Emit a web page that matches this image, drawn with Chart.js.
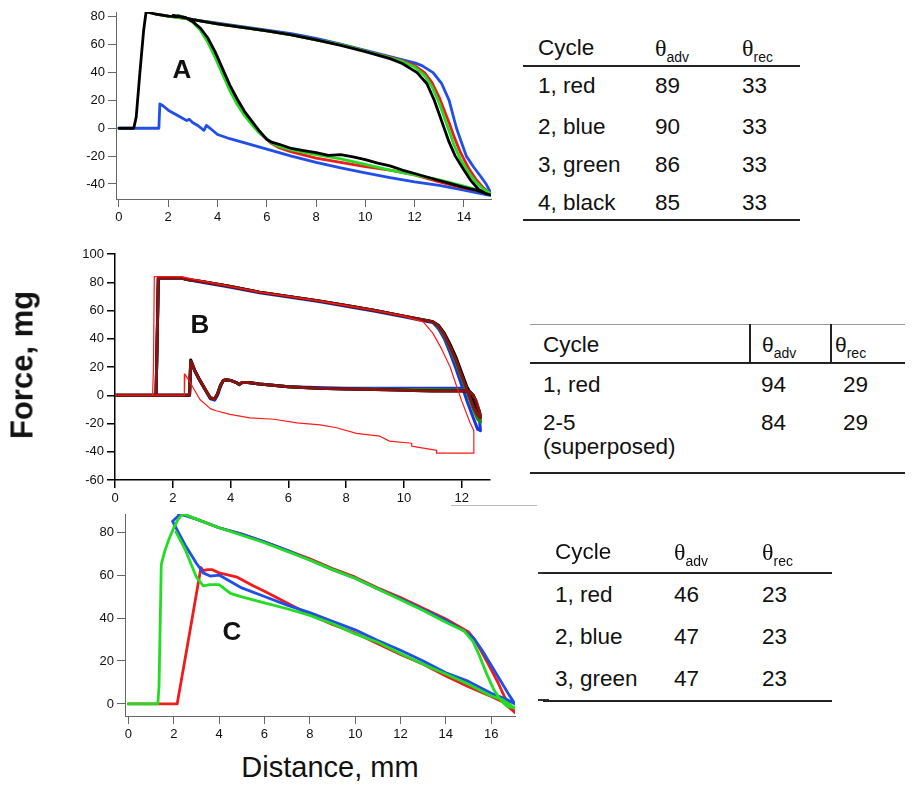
<!DOCTYPE html>
<html>
<head>
<meta charset="utf-8">
<script src="https://cdn.jsdelivr.net/npm/chart.js@4.4.0/dist/chart.umd.min.js"></script>
<style>
  body { margin: 0; background: #fff; }
  #page { position: relative; width: 918px; height: 787px; overflow: hidden; font-family: "Liberation Sans", Arial, sans-serif; color: #111; }
  canvas { position: absolute; left: 0; }
  .t { position: absolute; line-height: 1; white-space: nowrap; transform: translateY(-50%); font-size: 22.5px; z-index: 2; }
  .th { font-family: "Liberation Serif", serif; font-size: 24px; }
  .thb { font-family: "Liberation Sans", sans-serif; font-size: 21px; }
  .sub { font-size: 14px; position: relative; top: 6px; }
  .rule { position: absolute; height: 2px; background: #222; z-index: 2; }
  .letter { position: absolute; font-weight: bold; font-size: 26px; line-height: 1; transform: translate(-50%, -50%); z-index: 2; }
</style>
</head>
<body>
<div id="page">
  <canvas id="chartA" width="510" height="232" style="top:0"></canvas>
  <canvas id="chartB" width="510" height="275" style="top:235px"></canvas>
  <canvas id="chartC" width="530" height="246" style="top:500px"></canvas>

  <div class="letter" style="left:182px;top:69px">A</div>
  <div class="letter" style="left:200px;top:324px">B</div>
  <div class="letter" style="left:232px;top:631px">C</div>

  <div style="position:absolute;left:22px;top:365px;transform:translate(-50%,-50%) rotate(-90deg);font-weight:bold;font-size:31px;white-space:nowrap;line-height:1">Force, mg</div>
  <div style="position:absolute;left:330px;top:767px;transform:translate(-50%,-50%);font-size:29px;white-space:nowrap;line-height:1">Distance, mm</div>

  <!-- table A -->
  <div class="t" style="left:538px;top:48px">Cycle</div>
  <div class="t" style="left:655px;top:48px"><span class="th">θ</span><span class="sub">adv</span></div>
  <div class="t" style="left:742px;top:48px"><span class="th">θ</span><span class="sub">rec</span></div>
  <div class="rule" style="left:523px;top:65px;width:277px"></div>
  <div id="tableA"></div>
  <div class="rule" style="left:523px;top:219px;width:277px"></div>

  <!-- table B -->
  <div style="position:absolute;left:530px;top:324px;width:375px;height:1px;background:#999"></div>
  <div style="position:absolute;left:749px;top:324px;width:2px;height:39px;background:#222"></div>
  <div style="position:absolute;left:830px;top:324px;width:2px;height:39px;background:#222"></div>
  <div class="t" style="left:543px;top:345px">Cycle</div>
  <div class="t" style="left:762px;top:345px"><span class="thb">θ</span><span class="sub">adv</span></div>
  <div class="t" style="left:835px;top:345px"><span class="thb">θ</span><span class="sub">rec</span></div>
  <div class="rule" style="left:530px;top:362px;width:375px"></div>
  <div id="tableB"></div>
  <div class="rule" style="left:530px;top:472px;width:375px"></div>

  <!-- table C -->
  <div class="t" style="left:555px;top:552px">Cycle</div>
  <div class="t" style="left:674px;top:552px"><span class="th">θ</span><span class="sub">adv</span></div>
  <div class="t" style="left:762px;top:552px"><span class="th">θ</span><span class="sub">rec</span></div>
  <div class="rule" style="left:543px;top:572px;width:289px"></div>
  <div id="tableC"></div>
  <div class="rule" style="left:543px;top:700px;width:289px"></div>

  <!-- stray marks in the original figure -->
  <div style="position:absolute;left:451px;top:505px;width:86px;height:1px;background:#bbb"></div>
  <div style="position:absolute;left:538px;top:572px;width:11px;height:2px;background:#333"></div>
  <div style="position:absolute;left:538px;top:699px;width:11px;height:2px;background:#333"></div>
</div>

<script>
// ---- Panel A: four cycles ----
const A_X_TICKS = [0, 2, 4, 6, 8, 10, 12, 14];
const A_Y_TICKS = [-40, -20, 0, 20, 40, 60, 80];

const A_BLUE_X = [0, 1.62, 1.66, 1.8, 2.0, 2.2, 2.4, 2.6, 2.75, 2.85, 3.0, 3.2, 3.45, 3.55, 3.7, 4, 4.5, 5, 5.5, 6, 7, 8, 9, 10, 11, 12, 13, 14, 15, 15.12, 15.05, 14.9, 14.7, 14.4, 14.1, 13.9, 13.7, 13.55, 13.4, 13.1, 12.75, 12.3, 12, 11, 10, 9, 8, 7, 6, 5, 4, 3, 2.5, 2.0];
const A_BLUE_Y = [0, 0, 17.5, 16, 13, 11, 9, 7, 5.5, 6.5, 4, 2, -1.5, 2, 0, -4.5, -7.5, -10, -12.5, -15, -20, -24.5, -28.5, -32, -35.5, -38.5, -41, -44.5, -48, -48, -45, -40, -35, -28, -20, -10, 0, 10, 20, 32, 40, 45, 47, 51.5, 56, 60.5, 64.5, 68, 70.5, 73, 75.5, 78, 79.5, 80.5];

const A_RG_X = [1.5, 2.0, 3.0, 4, 5, 6, 7, 8, 9, 10, 11, 11.5, 12.0, 12.4, 12.7, 13.0, 13.2, 13.4, 13.6, 13.85, 14.2, 14.5, 14.8, 15.1, 14.5, 14, 13, 12, 11, 10, 9, 8, 7, 6.5, 6.2, 6.0, 5.7, 5.4, 5.1, 4.8, 4.5, 4.2, 3.9, 3.6, 3.3, 3.0, 2.7, 2.4];
const A_RED_Y = [82, 80.5, 78, 75, 72.5, 70, 67, 63.5, 60, 55.5, 51, 48.5, 45, 40, 33, 22, 13, 4, -6, -17, -29, -37, -43, -47.5, -44.5, -43, -38.5, -33.5, -30, -27.5, -24.5, -21.5, -17, -14, -11, -8, -3, 3, 10, 18, 28, 40, 52, 63, 71, 76.5, 79.5, 81];
const A_GREEN_Y = [82, 80.5, 78, 75, 72.5, 70, 67, 63.5, 60, 55.5, 50.5, 48, 44, 38, 30, 18, 8, -2, -12, -22, -32, -39, -44, -47, -44, -41.5, -37, -33.5, -30, -26, -22, -19, -15.5, -13, -10.5, -7.5, -3.5, 2.5, 9, 17, 27, 39, 51, 62, 70.5, 76, 79.5, 81];

const A_BLACK_X = [0, 0.6, 0.7, 0.85, 1.0, 1.1, 1.5, 2.0, 2.5, 3.0, 4, 5, 6, 7, 8, 9, 10, 11, 11.5, 12.1, 12.5, 12.8, 13.0, 13.2, 13.4, 13.65, 14.0, 14.3, 14.6, 14.9, 15.1, 14.5, 14, 13.5, 13, 12.5, 12, 11.5, 11, 10.5, 10, 9.5, 9, 8.5, 8, 7.5, 7, 6.5, 6.2, 6, 5.7, 5.4, 5.1, 4.8, 4.5, 4.2, 3.9, 3.6, 3.3, 3.0, 2.7, 2.4, 2.2];
const A_BLACK_Y = [0, 0, 8, 40, 70, 83.5, 82, 80.5, 80, 78, 75, 72.5, 70, 67, 63.5, 59.5, 55, 50, 46.5, 40, 32, 20, 10, 0, -10, -20, -30, -38, -44, -47, -48, -44.5, -42.5, -40, -37.5, -35, -32.5, -30, -27, -25, -22.5, -20.5, -19, -19.5, -17.5, -16, -14.5, -11.5, -10, -8, -2, 5, 12, 21, 31, 43, 55, 65, 72, 76.5, 79.5, 80.5, 81];

// ---- Panel B: cycle 1 (thin red) and cycles 2-5 superposed ----
const B_X_TICKS = [0, 2, 4, 6, 8, 10, 12];
const B_Y_TICKS = [-60, -40, -20, 0, 20, 40, 60, 80, 100];

const B_THICK_X = [0, 1.42, 1.46, 1.5, 2.3, 2.5, 3, 4, 5, 6, 7, 8, 9, 10, 10.5, 11.0, 11.2, 11.4, 11.6, 11.8, 12.0, 12.2, 12.4, 12.55, 12.65, 12.62, 12.5, 12.4, 12.3, 12.2, 11, 10, 9, 8, 7, 6, 5, 4.6, 4.4, 4.3, 4.2, 4.0, 3.85, 3.75, 3.65, 3.55, 3.45, 3.3, 3.1, 2.9, 2.75, 2.68, 2.62, 2.58, 0];
const B_BLUE_Y = [0, 0, 40, 83, 83, 82, 80, 76.5, 72.5, 69.5, 66.5, 63, 59.5, 55.5, 53.5, 51.5, 47, 40, 30, 19, 7, -5, -16, -24, -25, -18, -8, -2, 2, 5, 5, 5, 5, 5, 5.5, 6, 8, 9, 9, 7.5, 9, 10.5, 11, 10.5, 6, 0, -3.5, -2.5, 4.5, 11.5, 17.5, 21, 23, 0, 0];
const B_GREEN_Y = [0, 0, 40, 83, 83, 82, 80.5, 77, 73, 70, 67, 63.5, 60, 56, 54, 52, 48.5, 42, 33, 23, 12, 1, -10, -17, -19, -14, -5, 0, 2, 3.5, 4, 4, 4.5, 4.5, 5, 6, 8, 9, 9, 7.5, 9, 10.5, 11, 10.5, 7, 1, -2.5, -2, 5, 12, 18, 21.5, 23.5, 0, 0];
const B_BLACK_Y = [0, 0, 40, 83, 83, 82, 80.5, 77, 73, 70, 67, 63.5, 60, 56, 54, 52, 49.5, 44, 36, 27, 16, 5, -5, -11, -15, -12, -5, 0, 2, 3, 3, 3.5, 4, 4.5, 5, 6, 8, 9, 9, 7.5, 9, 10.5, 11, 10.5, 7, 1, -2.5, -2, 5, 12, 18, 22, 25, 0, 0];
const B_DARKRED_Y = [0, 0, 40, 83, 83, 82, 80.5, 77, 73, 70, 67, 63.5, 60, 56, 54, 52, 49, 43, 34, 25, 14, 3, -8, -14, -16, -12, -4, 0, 2, 3, 3, 3.5, 4, 4.5, 5, 6, 8, 9, 9, 7.5, 9, 10.5, 11, 10.5, 7, 1, -2.5, -2, 5, 12, 18, 22, 24, 0, 0];

const B_RED_X = [0, 1.3, 1.33, 1.36, 1.4, 2.3, 3, 4, 5, 6, 7, 8, 9, 10, 10.67, 11.0, 11.3, 11.6, 11.83, 12.0, 12.3, 12.42, 12.42, 11.13, 11.13, 10.27, 10.27, 9.5, 9.17, 8.36, 7.67, 7.1, 6.3, 5.5, 4.67, 3.98, 3.5, 3.3, 2.94, 2.6, 2.42, 2.4, 0];
const B_RED_Y = [0, 0, 18, 84, 84, 84, 81, 77, 73, 70, 67, 63.5, 60, 56, 52, 44, 33, 20, 6, -4, -20, -25, -41, -41, -39, -36, -34, -32.5, -29, -27, -23, -21, -19.5, -17, -16, -13.5, -11, -9.5, -3, 9, 15, 0, 0];

// ---- Panel C: three cycles ----
const C_X_TICKS = [0, 2, 4, 6, 8, 10, 12, 14, 16];
const C_Y_TICKS = [0, 20, 40, 60, 80];

const C_RED_X = [0, 2.15, 2.6, 3.2, 3.3, 3.5, 3.7, 4, 4.8, 5.5, 6, 7, 8, 9, 10, 11, 12, 13, 14, 15, 16, 16.5, 17.1, 16.9, 16.6, 16.3, 15.8, 15.3, 15, 14, 13, 12, 11, 10, 9, 8, 7, 6, 5, 4, 3, 2.5, 2.2];
const C_RED_Y = [0, 0, 27, 63.5, 62, 62.5, 62.5, 61, 59, 55, 52.5, 47, 41.5, 37, 33, 28, 23, 18.5, 13, 8, 3.5, 1, -4.5, -2, 3, 10, 20, 29.5, 33.5, 39.5, 44.5, 49.5, 54, 59, 63, 67.5, 71.5, 75.5, 79, 82, 86, 88, 88.5];

const C_BLUE_X = [1.95, 2.2, 2.5, 3.0, 3.3, 3.6, 4.0, 4.5, 5, 6, 7, 8, 9, 10, 11, 12, 13, 14, 15, 16, 16.7, 17.05, 16.8, 16.4, 16, 15.6, 15.2, 14.8, 14, 13, 12, 11, 10, 9, 8, 7, 6, 5, 4, 3, 2.4, 2.2, 1.95];
const C_BLUE_Y = [85, 80, 74, 65.5, 61, 59.5, 60, 57, 54, 50, 46, 42.5, 38.5, 34.5, 29.5, 25, 20, 14.5, 10.5, 5, 2, 0, 4, 11, 18, 25, 31, 34, 39, 44, 49, 53.5, 58.5, 62.5, 67, 71.5, 75.5, 79, 82, 86, 88, 87.5, 85];

const C_GREEN_X = [0, 1.3, 1.35, 1.45, 1.6, 1.8, 2.0, 2.2, 2.4, 3, 4, 5, 6, 7, 8, 9, 10, 11, 12, 13, 14, 14.8, 15.2, 15.5, 15.8, 16.1, 16.4, 16.7, 17.05, 16.5, 16, 15, 14, 13, 12, 11, 10, 9, 8, 7, 6, 5, 4.5, 4, 3.6, 3.3, 3.0, 2.5, 2.1];
const C_GREEN_Y = [0, 0, 8, 65, 71, 77, 82, 86, 88.5, 86, 82, 78.5, 75, 71, 67, 62.5, 58.5, 53.5, 48.5, 43.5, 38, 34, 29, 22, 14, 7, 2, -1, -2, 2, 3.7, 9.2, 13.9, 18.5, 23.5, 28.7, 32.6, 37.3, 41.2, 44.3, 47, 49.8, 51.5, 55.5, 55.5, 55, 59, 72, 80];

// ---- tables ----
const A_CYCLES = ['1, red', '2, blue', '3, green', '4, black'];
const A_ADV = [89, 90, 86, 85];
const A_REC = [33, 33, 33, 33];
const B_CYCLES = ['1, red', '2-5'];
const B_ADV = [94, 84];
const B_REC = [29, 29];
const C_CYCLES = ['1, red', '2, blue', '3, green'];
const C_ADV = [46, 47, 47];
const C_REC = [23, 23, 23];

const FONT = '"Liberation Sans", Arial, sans-serif';

function pts(xs, ys) {
  return xs.map((x, i) => ({ x: x, y: ys[i] }));
}

function line(xs, ys, color, width) {
  return {
    data: pts(xs, ys), borderColor: color, borderWidth: width,
    showLine: true, pointRadius: 0, tension: 0, fill: false,
    borderJoinStyle: 'round', borderCapStyle: 'round'
  };
}

function axis(dir, ticks, min, max, size, st) {
  return {
    type: 'linear', position: dir === 'x' ? 'bottom' : 'left', min: min, max: max,
    afterBuildTicks: s => { s.ticks = ticks.map(v => ({ value: v })); },
    afterFit: s => { if (dir === 'x') s.height = size; else s.width = size; },
    border: { display: true, color: st.color, width: st.width },
    grid: { drawOnChartArea: false, drawTicks: true, tickLength: st.tick, color: st.color, lineWidth: st.width },
    ticks: { padding: 3, color: '#111', font: { family: FONT, size: 13 }, maxRotation: 0, autoSkip: false }
  };
}

// note: Chart.js paints the first dataset last, so the topmost curve goes first
function makeChart(id, datasets, xAxis, yAxis, padding) {
  return new Chart(document.getElementById(id), {
    type: 'scatter',
    data: { datasets: datasets },
    options: {
      responsive: false, animation: false, events: [],
      layout: { padding: padding },
      plugins: { legend: { display: false }, tooltip: { enabled: false } },
      scales: { x: xAxis, y: yAxis }
    }
  });
}

const thin = { color: '#666', width: 1, tick: 8 };
const bold = { color: '#000', width: 1.5, tick: 8 };

makeChart('chartA', [
  line(A_BLACK_X, A_BLACK_Y, '#000000', 2.8),
  line(A_RG_X, A_GREEN_Y, '#22dd22', 2.8),
  line(A_RG_X, A_RED_Y, '#ee1c1c', 2.8),
  line(A_BLUE_X, A_BLUE_Y, '#1f4fe6', 2.8)
], axis('x', A_X_TICKS, -0.12, 15.1, 33, thin), axis('y', A_Y_TICKS, -50.8, 83.5, 116, thin),
  { left: 0, top: 12, right: 19, bottom: 0 });

makeChart('chartB', [
  line(B_RED_X, B_RED_Y, '#ff1a1a', 1.2),
  line(B_THICK_X, B_DARKRED_Y, '#8a1212', 3),
  line(B_THICK_X, B_BLACK_Y, '#000000', 3),
  line(B_THICK_X, B_GREEN_Y, '#168a16', 3),
  line(B_THICK_X, B_BLUE_Y, '#1a35e0', 3)
], axis('x', B_X_TICKS, 0, 12.98, 30, bold), axis('y', B_Y_TICKS, -60, 100, 115, bold),
  { left: 0, top: 19, right: 20, bottom: 0 });

makeChart('chartC', [
  line(C_GREEN_X, C_GREEN_Y, '#22dd22', 2.8),
  line(C_BLUE_X, C_BLUE_Y, '#1f4fe6', 2.8),
  line(C_RED_X, C_RED_Y, '#ee1c1c', 2.8)
], axis('x', C_X_TICKS, -0.15, 17.05, 30, thin), axis('y', C_Y_TICKS, -5.6, 88.4, 125, thin),
  { left: 0, top: 14, right: 15, bottom: 0 });

// table rows as positioned text
function rows(id, names, adv, rec, xs, ys) {
  const el = document.getElementById(id);
  el.innerHTML = names.map((n, i) => `
    <div class="t" style="left:${xs[0]}px;top:${ys[i]}px">${n}</div>
    <div class="t" style="left:${xs[1]}px;top:${ys[i]}px">${adv[i]}</div>
    <div class="t" style="left:${xs[2]}px;top:${ys[i]}px">${rec[i]}</div>`).join('');
}
rows('tableA', A_CYCLES, A_ADV, A_REC, [538, 655, 742], [86, 127, 165, 203]);
rows('tableB', B_CYCLES, B_ADV, B_REC, [543, 761, 843], [385, 423]);
document.getElementById('tableB').innerHTML += '<div class="t" style="left:543px;top:447px">(superposed)</div>';
rows('tableC', C_CYCLES, C_ADV, C_REC, [555, 674, 762], [595, 637, 679]);
</script>
</body>
</html>
